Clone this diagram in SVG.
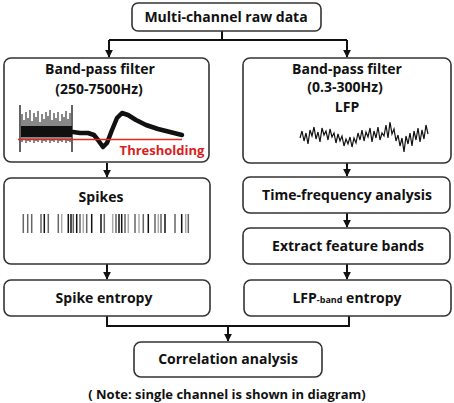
<svg xmlns="http://www.w3.org/2000/svg" width="454" height="403" viewBox="0 0 454 403">
<defs>
<style>
.box{fill:#fff;stroke:#333;stroke-width:1.6}
.t{font-family:"Open Sans","Noto Sans",sans-serif;font-weight:bold;font-size:14px;fill:#111;text-anchor:middle}
.c{fill:none;stroke:#111;stroke-width:2}
</style>
<marker id="ah" viewBox="0 0 10 10" refX="9" refY="5" markerWidth="4" markerHeight="4" orient="auto" markerUnits="strokeWidth">
<path d="M0,0 L10,5 L0,10 z" fill="#111"/>
</marker>
</defs>
<rect width="454" height="403" fill="#fff"/>
<g id="connectors">
<path class="c" d="M222,31 V40 M109,40 H347"/>
<path class="c" d="M109,40 V57" marker-end="url(#ah)"/>
<path class="c" d="M347,40 V57" marker-end="url(#ah)"/>
<path class="c" d="M107,163 V177" marker-end="url(#ah)"/>
<path class="c" d="M347,163 V176" marker-end="url(#ah)"/>
<path class="c" d="M347,213 V227" marker-end="url(#ah)"/>
<path class="c" d="M347,264 V279" marker-end="url(#ah)"/>
<path class="c" d="M107,264 V279" marker-end="url(#ah)"/>
<path class="c" d="M107,316 V326 H349 V316"/>
<path class="c" d="M228,326 V341" marker-end="url(#ah)"/>
</g>
<g id="raw">
<rect class="box" x="132" y="3" width="189" height="28" rx="6"/>
<text class="t" x="226" y="22">Multi-channel raw data</text>
</g>
<g id="bpf-spike">
<rect class="box" x="4" y="58" width="205" height="104" rx="7"/>
<text class="t" x="100" y="74">Band-pass filter</text>
<text class="t" x="99" y="94">(250-7500Hz)</text>
<g id="spikeblock" stroke="#111" stroke-width="1">
<path d="M20,105 V152 M72,105 V152" stroke-width="1.3"/>
<rect x="21" y="126" width="51" height="11" fill="#111" stroke="none"/>
<path d="M22,114V142 M24,120V140 M26,112V143 M28,118V141 M30,110V142 M32,121V139 M34,113V143 M36,117V141 M38,111V142 M40,122V140 M42,114V143 M44,119V141 M46,112V142 M48,116V140 M50,110V143 M52,120V141 M54,113V142 M56,118V140 M58,112V143 M60,121V141 M62,114V142 M64,117V140 M66,111V143 M68,119V141 M70,113V142"/>
</g>
<path d="M73,132 L80,133 L88,133 L94,135 L98,140 L103,147 L107,143 L112,130 L117,118 L122,113 L128,115 L136,120 L146,125 L158,129 L170,132 L182,135" fill="none" stroke="#111" stroke-width="4.5" stroke-linejoin="round" stroke-linecap="round"/>
<line x1="18" y1="139.5" x2="182" y2="139.5" stroke="#e0281e" stroke-width="1.3"/>
<text class="t" x="162" y="155" style="fill:#d81e1e;font-size:13px">Thresholding</text>
</g>
<g id="bpf-lfp">
<rect class="box" x="243" y="58" width="208" height="105" rx="7"/>
<text class="t" x="347" y="74">Band-pass filter</text>
<text class="t" x="345" y="92">(0.3-300Hz)</text>
<text class="t" x="347" y="112">LFP</text>
<polyline fill="none" stroke="#111" stroke-width="1.2" points="300,138 302,131 304,141 306,133 308,144 310,130 312,136 314,127 316,139 318,132 320,142 322,128 324,135 326,131 328,140 330,129 332,137 334,133 336,143 338,134 340,141 342,136 344,146 346,139 348,144 350,137 352,147 354,138 356,143 358,133 360,140 362,130 364,141 366,132 368,137 370,128 372,142 374,131 376,138 378,127 380,140 382,133 384,136 386,125 388,138 390,122 392,134 394,129 396,141 398,135 400,146 402,138 404,152 406,136 408,144 410,133 412,146 414,131 416,140 418,128 420,142 422,130 424,139 426,125 428,134"/>
</g>
<g id="spikes">
<rect class="box" x="4" y="178" width="206" height="86" rx="7"/>
<text class="t" x="101" y="202">Spikes</text>
<g stroke-width="1.5">
<path stroke="#666" d="M23.3,214V233 M27.7,214V233 M31.7,214V233 M41,214V233 M48.3,214V233 M58.3,214V233 M73.3,214V233 M80,214V233 M86.7,214V233 M104.3,214V233 M116,214V233 M125,214V233 M135,214V233 M143.3,214V233 M155,214V233 M161,214V233 M175,214V233 M188.3,214V233"/>
<path stroke="#aaa" d="M61.7,214V233 M83.3,214V233 M112.7,214V233 M128.3,214V233 M139,214V233 M158.3,214V233 M185.7,214V233"/>
<path stroke="#111" d="M44.3,214V233 M68.3,214V233 M71,214V233 M76.7,214V233 M91.7,214V233 M101,214V233 M119,214V233 M121.7,214V233 M148.3,214V233 M165,214V233 M181.7,214V233"/>
</g>
</g>
<g id="tf">
<rect class="box" x="243" y="177" width="207" height="36" rx="7"/>
<text class="t" x="347" y="200">Time-frequency analysis</text>
</g>
<g id="extract">
<rect class="box" x="243" y="228" width="207" height="36" rx="7"/>
<text class="t" x="348" y="251">Extract feature bands</text>
</g>
<g id="spike-entropy">
<rect class="box" x="4" y="280" width="206" height="36" rx="7"/>
<text class="t" x="104" y="303">Spike entropy</text>
</g>
<g id="lfp-entropy">
<rect class="box" x="244" y="280" width="207" height="36" rx="7"/>
<text class="t" x="347" y="303">LFP<tspan font-size="9">-band</tspan> entropy</text>
</g>
<g id="corr">
<rect class="box" x="134" y="342" width="188" height="35" rx="7"/>
<text class="t" x="228" y="364">Correlation analysis</text>
</g>
<text class="t" x="227" y="399" style="font-size:13px">( Note: single channel is shown in diagram)</text>
</svg>
